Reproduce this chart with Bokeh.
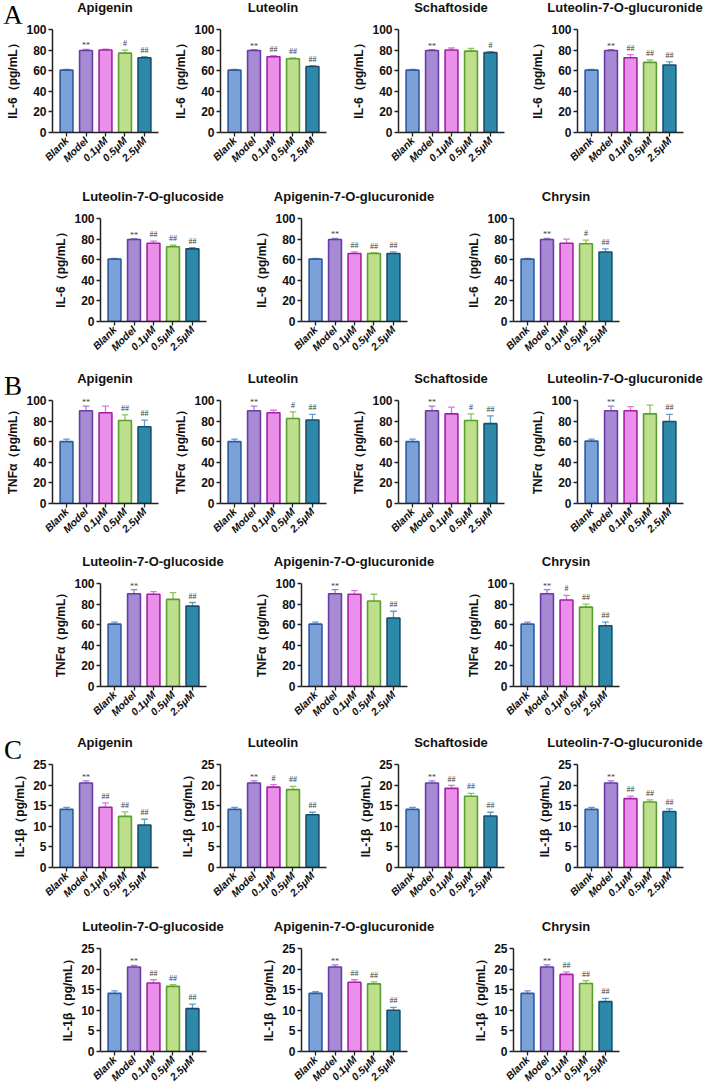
import math
from bokeh.plotting import figure
from bokeh.models import ColumnDataSource, LabelSet, FixedTicker, Spacer, Div
from bokeh.layouts import row, column
from bokeh.embed import file_html
from bokeh.resources import INLINE

groups = ["Blank", "Model", "0.1μM", "0.5μM", "2.5μM"]
compounds = ["Apigenin", "Luteolin", "Schaftoside", "Luteolin-7-O-glucuronide",
             "Luteolin-7-O-glucoside", "Apigenin-7-O-glucuronide", "Chrysin"]

il6_mean = [[60.5, 79.5, 80.0, 77.0, 72.5],
            [60.5, 79.5, 73.5, 71.5, 64.0],
            [60.5, 79.5, 80.0, 79.0, 77.5],
            [60.5, 79.5, 72.5, 68.0, 65.5],
            [60.5, 79.5, 76.0, 72.5, 70.5],
            [60.5, 79.5, 66.0, 66.0, 66.0],
            [60.5, 79.5, 76.0, 75.5, 67.5]]
il6_err = [[0.8, 1.2, 0.8, 3.0, 1.0],
           [0.8, 1.0, 1.0, 1.0, 0.8],
           [0.8, 0.8, 2.0, 2.5, 1.0],
           [0.8, 0.8, 3.0, 2.5, 3.0],
           [0.8, 1.0, 2.0, 1.5, 1.2],
           [0.8, 1.2, 1.5, 0.8, 1.5],
           [0.8, 1.2, 4.0, 3.5, 3.0]]
il6_sig = [["", "**", "", "#", "##"],
           ["", "**", "##", "##", "##"],
           ["", "**", "", "", "#"],
           ["", "**", "##", "##", "##"],
           ["", "**", "##", "##", "##"],
           ["", "**", "##", "##", "##"],
           ["", "**", "", "#", "##"]]

tnf_mean = [[60.0, 90.0, 88.0, 80.5, 74.5],
            [60.0, 90.0, 88.0, 82.5, 81.0],
            [60.0, 90.0, 87.0, 80.5, 77.5],
            [60.5, 90.0, 90.0, 87.0, 79.5],
            [60.5, 90.0, 89.5, 84.5, 78.0],
            [60.5, 90.0, 89.5, 83.0, 66.5],
            [60.5, 90.0, 84.0, 77.0, 59.0]]
tnf_err = [[2.5, 4.5, 6.5, 5.5, 6.5],
           [2.5, 4.5, 2.5, 6.5, 5.5],
           [2.5, 4.5, 6.5, 6.5, 7.5],
           [2.0, 4.5, 4.0, 8.5, 7.0],
           [2.0, 4.0, 2.5, 6.5, 3.5],
           [2.0, 4.0, 3.5, 6.5, 6.5],
           [2.0, 4.0, 4.5, 3.0, 3.5]]
tnf_sig = [["", "**", "", "##", "##"],
           ["", "**", "", "#", "##"],
           ["", "**", "", "#", "##"],
           ["", "**", "", "", "##"],
           ["", "**", "", "", "##"],
           ["", "**", "", "", "##"],
           ["", "**", "#", "##", "##"]]

il1b_mean = [[14.1, 20.5, 14.6, 12.4, 10.3],
             [14.1, 20.5, 19.5, 18.9, 12.8],
             [14.1, 20.5, 19.2, 17.3, 12.5],
             [14.1, 20.5, 16.7, 15.9, 13.6],
             [14.1, 20.5, 16.6, 15.8, 10.4],
             [14.1, 20.5, 16.8, 16.4, 10.0],
             [14.1, 20.5, 18.7, 16.5, 12.1]]
il1b_err = [[0.5, 0.5, 1.1, 1.1, 1.4],
            [0.5, 0.5, 0.6, 0.8, 0.6],
            [0.5, 0.5, 0.7, 0.7, 0.9],
            [0.5, 0.5, 0.6, 0.5, 0.6],
            [0.6, 0.4, 0.8, 0.4, 1.1],
            [0.4, 0.5, 0.6, 0.5, 0.7],
            [0.6, 0.5, 0.6, 0.7, 0.8]]
il1b_sig = [["", "**", "##", "##", "##"],
            ["", "**", "#", "##", "##"],
            ["", "**", "##", "##", "##"],
            ["", "**", "##", "##", "##"],
            ["", "**", "##", "##", "##"],
            ["", "**", "##", "##", "##"],
            ["", "**", "##", "##", "##"]]

il6_ticks = [0, 20, 40, 60, 80, 100]
tnf_ticks = [0, 20, 40, 60, 80, 100]
il1b_ticks = [0, 5, 10, 15, 20, 25]

fills = ["#7BA1D9", "#A68AD3", "#EA90EA", "#BEE08C", "#2C89AA"]
edges = ["#2D5AA0", "#6A3AA6", "#A51FA5", "#5A9E2E", "#1A4D6C"]
ecols = ["#6D95D0", "#9B80CF", "#D47AD5", "#8FC45E", "#5E9FC4"]

FRAME_W = 106
AXIS_H = 104          # pixels from 0 to top tick
HEAD_ROOM = 6         # pixels of frame above the top tick
FRAME_H = AXIS_H + HEAD_ROOM
LEFT = 52
BOTTOM = 38
HEADER_H = 23
XLO, XHI = -0.72, 4.72
SANS = "Liberation Sans"


def panel(idx, means, errs, sigs, ticks, ylabel):
    ymax = ticks[-1]
    upp = ymax / AXIS_H
    p = figure(width=LEFT + FRAME_W + 10, height=FRAME_H + BOTTOM,
               x_range=(XLO, XHI), y_range=(0, ymax + HEAD_ROOM * upp),
               min_border_left=LEFT, min_border_right=10,
               min_border_top=0, min_border_bottom=BOTTOM,
               output_backend="svg", toolbar_location=None)
    p.outline_line_color = None
    p.xgrid.visible = False
    p.ygrid.visible = False
    xs = list(range(len(groups)))
    m = means[idx]
    e = errs[idx]
    s = sigs[idx]
    src = ColumnDataSource(dict(
        x=xs, mean=m, hi=[a + b for a, b in zip(m, e)],
        xl=[x - 0.17 for x in xs], xr=[x + 0.17 for x in xs],
        fill=fills, edge=edges, ecol=ecols, sig=s,
        sy=[a + b + (1.0 if t.startswith("*") else 4.0) * upp for a, b, t in zip(m, e, s)],
    ))
    p.segment(x0="x", y0="mean", x1="x", y1="hi", line_color="ecol", line_width=1.3, source=src)
    p.segment(x0="xl", y0="hi", x1="xr", y1="hi", line_color="ecol", line_width=1.3, source=src)
    p.vbar(x="x", top="mean", bottom=0, width=0.66, fill_color="fill", line_color="edge",
           line_width=1.6, source=src)
    p.add_layout(LabelSet(x="x", y="sy", text="sig", source=src, text_align="center",
                          text_baseline="alphabetic", text_font_size="8px",
                          text_color="#3a3a3a", text_font=SANS))
    p.xaxis.ticker = FixedTicker(ticks=xs)
    p.xaxis.major_label_overrides = {i: g for i, g in enumerate(groups)}
    p.xaxis.major_label_orientation = math.pi / 4
    p.xaxis.major_label_text_font = SANS
    p.xaxis.major_label_text_font_style = "bold italic"
    p.xaxis.major_label_text_font_size = "10.5px"
    p.xaxis.major_label_text_color = "#111111"
    p.xaxis.major_label_standoff = 2
    p.yaxis.ticker = FixedTicker(ticks=ticks)
    p.yaxis.bounds = (0, ymax)
    p.yaxis.axis_label = ylabel
    p.yaxis.axis_label_text_font = SANS
    p.yaxis.axis_label_text_font_style = "bold"
    p.yaxis.axis_label_text_font_size = "12px"
    p.yaxis.axis_label_text_color = "#111111"
    p.yaxis.axis_label_standoff = 3
    p.yaxis.major_label_text_font = SANS
    p.yaxis.major_label_text_font_style = "bold"
    p.yaxis.major_label_text_font_size = "12px"
    p.yaxis.major_label_text_color = "#111111"
    p.yaxis.major_label_standoff = 2
    for ax in (p.xaxis, p.yaxis):
        ax.axis_line_width = 1.5
        ax.axis_line_color = "#222222"
        ax.major_tick_line_color = "#222222"
        ax.major_tick_line_width = 1.3
        ax.major_tick_out = 4
        ax.major_tick_in = 0
        ax.minor_tick_line_color = None
    return p


def title_div(text, width):
    html = ('<div style="width:%dpx;text-align:center;white-space:nowrap;font-family:%s;'
            'font-weight:bold;font-size:13px;line-height:12px;color:#111111;">%s</div>'
            % (width, SANS, text))
    return Div(text=html, width=width, height=HEADER_H, margin=0)


def letter_div(text, width):
    html = ('<div style="width:%dpx;text-align:center;font-family:Liberation Serif;'
            'font-size:27px;line-height:30px;color:#000000;">%s</div>'
            % (width, text))
    return Div(text=html, width=width, height=HEADER_H, margin=0)


def block(means, errs, sigs, ticks, ylabel, letter):
    h1 = row(letter_div(letter, 26),
             title_div(compounds[0], 158), title_div(compounds[1], 178),
             title_div(compounds[2], 178), Spacer(width=5, height=HEADER_H),
             title_div(compounds[3], 160))
    r1 = row(
        panel(0, means, errs, sigs, ticks, ylabel),
        panel(1, means, errs, sigs, ticks, ylabel),
        Spacer(width=10, height=10),
        panel(2, means, errs, sigs, ticks, ylabel),
        Spacer(width=11, height=10),
        panel(3, means, errs, sigs, ticks, ylabel),
    )
    h2 = row(Spacer(width=63, height=HEADER_H), title_div(compounds[4], 180),
             Spacer(width=21, height=HEADER_H), title_div(compounds[5], 180),
             Spacer(width=32, height=HEADER_H), title_div(compounds[6], 180))
    r2 = row(
        Spacer(width=48, height=10),
        panel(4, means, errs, sigs, ticks, ylabel),
        Spacer(width=33, height=10),
        panel(5, means, errs, sigs, ticks, ylabel),
        Spacer(width=44, height=10),
        panel(6, means, errs, sigs, ticks, ylabel),
    )
    return h1, r1, h2, r2


a = block(il6_mean, il6_err, il6_sig, il6_ticks, "IL-6（pg/mL）", "A")
b = block(tnf_mean, tnf_err, tnf_sig, tnf_ticks, "TNFα（pg/mL）", "B")
c = block(il1b_mean, il1b_err, il1b_sig, il1b_ticks, "IL-1β（pg/mL）", "C")

layout = column(
    a[0], a[1], Spacer(width=1, height=18), a[2], a[3], Spacer(width=1, height=11),
    b[0], b[1], Spacer(width=1, height=12), b[2], b[3], Spacer(width=1, height=10),
    c[0], c[1], Spacer(width=1, height=13), c[2], c[3],
)

open("out.html", "w").write(file_html(layout, INLINE))
